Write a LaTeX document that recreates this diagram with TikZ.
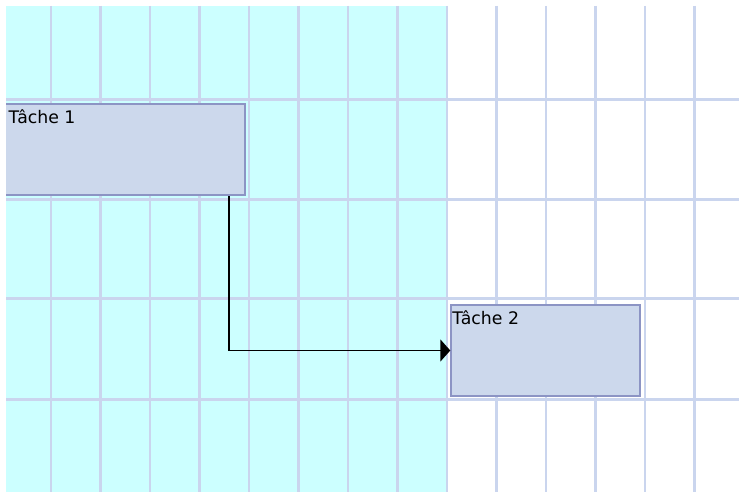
\documentclass[tikz,border=0pt]{standalone}
\usepackage{fontspec}
\setmainfont{DejaVu Sans}
\usetikzlibrary{arrows.meta}
\definecolor{bgcyan}{HTML}{CCFFFF}
\definecolor{gridc}{HTML}{CAD5EE}
\definecolor{taskfill}{HTML}{CCD8EC}
\definecolor{taskborder}{HTML}{8C94C4}
\tikzset{
  gridline/.style={draw=gridc, line width=2.5pt},
  taskbox/.style={draw=taskborder, fill=taskfill, line width=2pt, inner sep=0pt, anchor=north west},
  tasklabel/.style={anchor=base west, inner sep=0pt, font=\fontsize{17.3}{20}\selectfont},
  link/.style={draw=black, line width=1.8pt, -{Triangle[length=10pt,width=22pt]}}
}
\begin{document}
\begin{tikzpicture}[x=1pt,y=-1pt]
\useasboundingbox (0,0) rectangle (739,492);
\fill[white] (0,0) rectangle (739,492);
\begin{scope}
\clip (6,6) rectangle (739,492);
\fill[bgcyan] (6,6) rectangle (447,492);
\foreach \gx in {51,100.5,150,199.5,249,298.5,348,397.5,447,496.5,546,595.5,645,694.5}
  \draw[gridline] (\gx,6) -- (\gx,492);
\foreach \gy in {99.5,199.5,298.5,399.5}
  \draw[gridline] (6,\gy) -- (739,\gy);
\node[taskbox, minimum width=241pt, minimum height=91.3pt] (box1) at (3,103) {};
\node[taskbox, minimum width=188.7pt, minimum height=90.4pt] (box2) at (450.3,304.3) {};
\node[tasklabel] (t1) at (8.5,124) {Tâche 1};
\node[tasklabel] (t2) at ([xshift=1.8pt,yshift=-19.7pt]box2.north west) {Tâche 2};
\coordinate (bend) at ([xshift=-16.7pt]box1.south east);
\draw[link] (bend) |- (box2.west);
\end{scope}
\end{tikzpicture}
\end{document}
